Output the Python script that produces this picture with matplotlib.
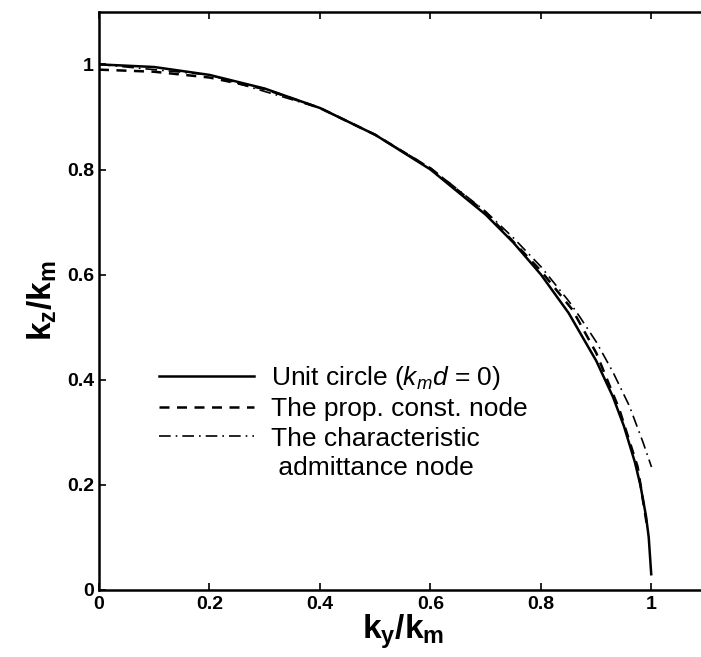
import numpy as np
import matplotlib
matplotlib.use('Agg')
import matplotlib.pyplot as plt
from matplotlib.lines import Line2D

plt.rcParams['font.family'] = ['Liberation Sans', 'DejaVu Sans']
plt.rcParams['mathtext.fontset'] = 'custom'
plt.rcParams['mathtext.rm'] = 'Liberation Sans'
plt.rcParams['mathtext.it'] = 'Liberation Sans:italic'
plt.rcParams['mathtext.bf'] = 'Liberation Sans:bold'

# 단위원 (k_m d = 0)
ky_circle = [0, 0.1, 0.2, 0.3, 0.4, 0.5, 0.6, 0.7, 0.75, 0.8, 0.85, 0.9, 0.93, 0.95, 0.97, 0.98, 0.99, 0.995, 0.9995]
kz_circle = [1.0, 0.995, 0.98, 0.954, 0.917, 0.866, 0.8, 0.714, 0.661, 0.6, 0.527, 0.436, 0.368, 0.312, 0.243, 0.199, 0.141, 0.1, 0.03]

# 전파상수 노드
ky_prop = [0, 0.1, 0.2, 0.3, 0.4, 0.5, 0.6, 0.7, 0.8, 0.857, 0.9, 0.942, 0.975, 0.993]
kz_prop = [0.99, 0.986, 0.975, 0.953, 0.917, 0.866, 0.802, 0.718, 0.607, 0.533, 0.451, 0.343, 0.234, 0.115]

# 특성 어드미턴스 노드
ky_adm = [0, 0.2, 0.4, 0.5, 0.6, 0.7, 0.75, 0.8, 0.85, 0.87, 0.9, 0.93, 0.96, 0.985, 1.0]
kz_adm = [1.0, 0.98, 0.917, 0.866, 0.803, 0.72, 0.67, 0.615, 0.55, 0.52, 0.472, 0.415, 0.35, 0.28, 0.234]

xticks = [0, 0.2, 0.4, 0.6, 0.8, 1]
yticks = [0, 0.2, 0.4, 0.6, 0.8, 1]
ticklabels = ['0', '0.2', '0.4', '0.6', '0.8', '1']

fig = plt.figure(figsize=(7.01, 6.57), dpi=100)
ax = fig.add_axes([0.1412, 0.102, 0.867, 0.880])

ax.plot(ky_circle, kz_circle, color='black', linestyle='-', lw=1.8)
ax.plot(ky_prop, kz_prop, color='black', linestyle=(0, (4, 3)), lw=1.8)
ax.plot(ky_adm, kz_adm, color='black', linestyle=(0, (7, 3, 1, 3)), lw=1.2)

ax.set_xlim(0, 1.1)
ax.set_ylim(0, 1.1)
ax.set_xticks(xticks)
ax.set_yticks(yticks)
ax.set_xticklabels(ticklabels, fontsize=14, fontweight='bold')
ax.set_yticklabels(ticklabels, fontsize=14, fontweight='bold')
ax.tick_params(axis='x', pad=4)
ax.tick_params(direction='in', length=5, width=1.2, top=True, right=False)
for s in ax.spines.values():
    s.set_linewidth(1.8)

ax.set_xlabel(r'$\mathbf{k_y/k_m}$', fontsize=24, labelpad=0)
ax.set_ylabel(r'$\mathbf{k_z/k_m}$', fontsize=24, labelpad=6)

# 범례
handles = [Line2D([], [], color='black', linestyle='-', lw=1.8),
           Line2D([], [], color='black', linestyle=(0, (4, 3)), lw=1.8),
           Line2D([], [], color='black', linestyle=(0, (7, 3, 1, 3)), lw=1.2),
           Line2D([], [], color='none')]
labels = [r'Unit circle ($k_md$ = $\mathit{0}$)', 'The prop. const. node',
          'The characteristic', ' admittance node']
ax.legend(handles, labels, loc='upper left', bbox_to_anchor=(0.06, 0.432),
          frameon=False, fontsize=19, handlelength=3.6, handletextpad=0.65,
          labelspacing=0.2)

plt.savefig('out.png', dpi=100)
